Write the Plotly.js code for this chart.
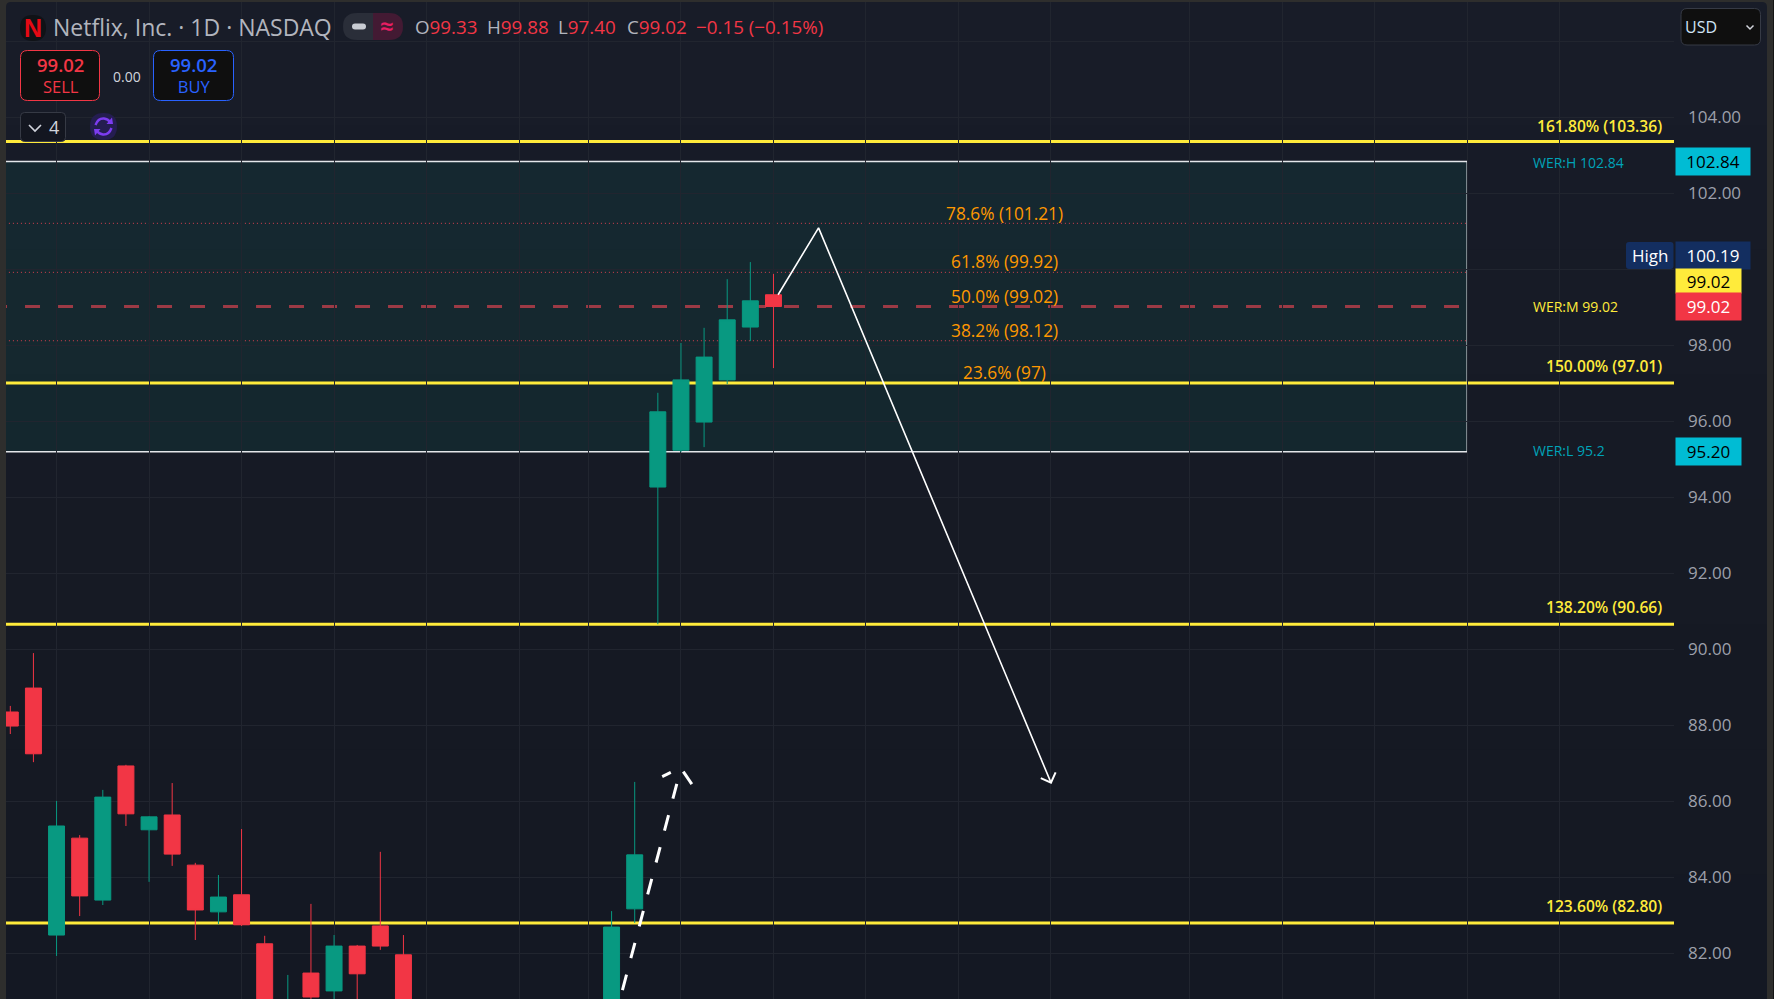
<!DOCTYPE html>
<html>
<head>
<meta charset="utf-8">
<script src="https://cdn.plot.ly/plotly-3.0.1.min.js"></script>
<style>html,body{margin:0;padding:0;background:#151924;overflow:hidden}#chart{width:1774px;height:999px}</style>
</head>
<body>
<div id="chart"></div>
<script>
// ---- data ----
const candleIndex = [0,1,2,3,4,5,6,7,8,9,10,11,12,13,14,15,16,17,26,27,28,29,30,31,32,33];
const candleOpen  = [88.35,88.98,82.48,85.03,83.40,86.93,85.25,85.64,84.32,83.09,83.54,82.25,80.00,81.48,81.01,82.19,82.72,81.96,79.00,83.17,94.27,95.24,95.98,97.09,98.48,99.33];
const candleClose = [87.98,87.25,85.35,83.51,86.11,85.67,85.59,84.61,83.14,83.48,82.75,79.50,80.50,80.85,82.19,81.46,82.19,79.50,82.69,84.59,96.25,97.09,97.69,98.67,99.17,99.02];
const candleHigh  = [88.51,89.90,86.01,85.11,86.30,86.96,85.61,86.48,84.38,84.06,85.27,82.46,81.43,83.30,82.48,82.22,84.67,82.48,83.11,86.51,96.75,98.06,98.46,99.74,100.19,99.88];
const candleLow   = [87.77,87.03,81.93,82.98,83.27,85.35,83.88,84.30,82.35,82.77,82.72,79.00,79.50,80.50,80.00,80.00,82.09,79.00,78.50,82.80,90.66,95.19,95.32,96.98,98.11,97.40];

const yTickVals = [82,84,86,88,90,92,94,96,98,100,102,104,106];
const yTickText = ["82.00","84.00","86.00","88.00","90.00","92.00","94.00","96.00","98.00","","102.00","104.00",""];
const xGridVals = [2,6,10,14,18,22,25,29,33,37,41,45,51,55,59,63,67];

const extensionLevels = [103.36,97.01,90.66,82.80];
const extensionLabels = ["161.80% (103.36)","150.00% (97.01)","138.20% (90.66)","123.60% (82.80)"];
const extensionLabelY = [103.77,97.46,91.10,83.25];
const fibLevels  = [101.21,99.92,98.12];
const fibLabels  = ["78.6% (101.21)","61.8% (99.92)","50.0% (99.02)","38.2% (98.12)","23.6% (97)"];
const fibLabelY  = [101.46,100.21,99.28,98.39,97.28];
const werHigh = 102.84, werMid = 99.02, werLow = 95.20;

const arrowX = [33.2,34.95,45.0];
const arrowY = [99.33,101.09,86.49];
const arrowHeadX = [44.56,45.0,45.2];
const arrowHeadY = [86.61,86.49,86.76];
const dashX = [26.47,28.82];
const dashY = [81.03,86.46];
const dashHeadLeftX = [28.19,28.56], dashHeadLeftY = [86.65,86.76];
const dashHeadRightX = [29.10,29.47], dashHeadRightY = [86.78,86.45];

// ---- helpers: whole-page pixel -> paper ----
const W = 1774, H = 999;
const px = x => x / W, py = y => 1 - y / H;
const GREEN = "#089981", RED = "#f23645", YEL = "#ffeb3b", ORG = "#ff9800", CY = "#00bcd4", CYT = "#00a3b8", FRAME = "#2e2e2d";
const FONT = "'Open Sans', sans-serif";

function rr(x0,y0,x1,y1,r){
  const X=px,Y=py;
  return `M${X(x0+r)},${Y(y0)} L${X(x1-r)},${Y(y0)} Q${X(x1)},${Y(y0)} ${X(x1)},${Y(y0+r)} L${X(x1)},${Y(y1-r)} Q${X(x1)},${Y(y1)} ${X(x1-r)},${Y(y1)} L${X(x0+r)},${Y(y1)} Q${X(x0)},${Y(y1)} ${X(x0)},${Y(y1-r)} L${X(x0)},${Y(y0+r)} Q${X(x0)},${Y(y0)} ${X(x0+r)},${Y(y0)} Z`;
}
function pline(pts){return "M"+pts.map(p=>px(p[0])+","+py(p[1])).join(" L");}
function pshape(path,fill,lc,lw,extra){return Object.assign({type:"path",xref:"paper",yref:"paper",path,fillcolor:fill||"rgba(0,0,0,0)",line:{color:lc||"rgba(0,0,0,0)",width:lw||0},layer:"above"},extra||{});}
function rect(x0,y0,x1,y1,fill,layer){return {type:"rect",xref:"paper",yref:"paper",x0:px(x0),x1:px(x1),y0:py(y0),y1:py(y1),fillcolor:fill,line:{width:0},layer:layer||"above"};}
function txt(x,y,text,o){o=o||{};return {xref:"paper",yref:"paper",x:px(x),y:py(y),text,showarrow:false,xanchor:o.a||"left",yanchor:"middle",font:{family:o.f||FONT,size:o.s||14,color:o.c||"#b2b5be",weight:o.w||400},borderpad:0};}
// price tag on the axis: y in data units, x in page pixels
function tag(x0,x1,yVal,h,text,bg,col,w){return {xref:"paper",yref:"y",x:px(x0),y:yVal,xanchor:"left",yanchor:"middle",text,showarrow:false,width:x1-x0,height:h,align:"center",bgcolor:bg,borderpad:0,font:{family:FONT,size:17,color:col,weight:w||400}};}

const shapes = [];
// very slight vertical fade of the chart background
const bgBands = ["#181c28","#171b27","#171b26","#161a25","#161a24","#151923","#151923","#141823"];
bgBands.forEach((c,i)=>shapes.push(rect(0,i*H/bgBands.length,W,(i+1)*H/bgBands.length+1,c,"below")));
// WER zone
shapes.push({type:"rect",xref:"x",yref:"y",x0:-3,x1:63,y0:werLow,y1:werHigh,fillcolor:"rgba(8,153,129,0.10)",line:{color:"#e4e6ea",width:1.5},layer:"below"});
// fib levels inside the zone
fibLevels.forEach(v=>shapes.push({type:"line",xref:"x",yref:"y",x0:-3,x1:63,y0:v,y1:v,line:{color:"#d8404f",width:1,dash:"1px,3px"},layer:"below"}));
shapes.push({type:"line",xref:"x",yref:"y",x0:-0.79,x1:62.69,y0:werMid,y1:werMid,line:{color:"#9c3a45",width:3,dash:"15px,18px"},layer:"below"});
// extension levels
extensionLevels.forEach(v=>shapes.push({type:"line",xref:"x",yref:"y",x0:-3,x1:75,y0:v,y1:v,line:{color:YEL,width:3},layer:"below"}));

// window frame
shapes.push(rect(0,0,6,H,FRAME));
shapes.push(rect(0,0,W,2,FRAME));
shapes.push(rect(1767,0,1773,H,FRAME));
shapes.push(rect(1773,0,W,H,"#141414"));
shapes.push(pshape(`M${px(6)},${py(2)} L${px(11)},${py(2)} Q${px(6)},${py(2)} ${px(6)},${py(7)} Z`,FRAME));
shapes.push(pshape(`M${px(1767)},${py(2)} L${px(1762)},${py(2)} Q${px(1767)},${py(2)} ${px(1767)},${py(7)} Z`,FRAME));

// logo
shapes.push(pshape(rr(20,15,46,41,13),"#101216"));
// OHLC pill
shapes.push(pshape(`M${px(373)},${py(13)} L${px(357)},${py(13)} Q${px(343)},${py(13)} ${px(343)},${py(26.5)} Q${px(343)},${py(40)} ${px(357)},${py(40)} L${px(373)},${py(40)} Z`,"#2a2e39"));
shapes.push(pshape(`M${px(373)},${py(13)} L${px(389)},${py(13)} Q${px(403)},${py(13)} ${px(403)},${py(26.5)} Q${px(403)},${py(40)} ${px(389)},${py(40)} L${px(373)},${py(40)} Z`,"#431a33"));
shapes.push(pshape(rr(352,23.5,366,29.5,3),"#c9ccd3"));
// sell / buy
shapes.push(pshape(rr(20.5,50.5,99.5,100.5,7),"#0f0f0f",RED,1));
shapes.push(pshape(rr(153.5,50.5,233.5,100.5,7),"#0f0f0f","#2962ff",1));
// collapse button
shapes.push(pshape(rr(20.5,112.5,65.5,141.5,4),"#131620","#363a45",1));
shapes.push(pshape(pline([[29,125],[35,131],[41,125]]),null,"#d1d4dc",1.6));
// sync icon
shapes.push(pshape(rr(90,113,117,140,13.5),"#241d50"));
shapes.push(pshape(`M${px(95.5)},${py(125)} Q${px(98)},${py(118)} ${px(104)},${py(118.5)} Q${px(108)},${py(119)} ${px(110)},${py(122)}`,null,"#7c3cf0",2.4));
shapes.push(pshape(`M${px(111.5)},${py(128)} Q${px(109)},${py(135)} ${px(103)},${py(134.5)} Q${px(99)},${py(134)} ${px(97)},${py(131)}`,null,"#7c3cf0",2.4));
shapes.push(pshape(pline([[106.5,124],[113,124],[112,117.5],[106.5,124]]),"#7c3cf0"));
shapes.push(pshape(pline([[94,129],[100.5,129],[95,135.5],[94,129]]),"#7c3cf0"));
// currency box
shapes.push(pshape(rr(1681,8.5,1760.5,45,6),"#0f0f0f","#363a45",1));
shapes.push(pshape(pline([[1746.5,25.5],[1750,29],[1753.5,25.5]]),null,"#d1d4dc",1.5));
// "High" label backing
shapes.push(pshape(rr(1626,242,1673.5,269,3),"#132e60"));

const red = (s)=>`<span style="color:${RED}">${s}</span>`;
const big = (s)=>`<span style="font-size:18.5px;font-weight:600">${s}</span>`;
const annotations = [
  txt(33,28,"<b>N</b>",{a:"center",s:25,c:"#e50914",f:"'Liberation Sans Narrow','Liberation Sans',sans-serif"}),
  txt(52,27,"Netflix, Inc. · 1D · NASDAQ",{s:23,c:"#b2b5be"}),
  txt(387,26,"≈",{a:"center",s:24,c:"#e91e63",w:600}),
  txt(414,27,"O"+red("99.33"),{s:18.8}),
  txt(485.5,27,"H"+red("99.88"),{s:18.8}),
  txt(557,27,"L"+red("97.40"),{s:18.8}),
  txt(626,27,"C"+red("99.02"),{s:18.8}),
  txt(695,27,red("−0.15 (−0.15%)"),{s:18.8}),
  txt(60,75,big("99.02")+"<br>SELL",{a:"center",s:16.5,c:RED}),
  txt(127,76,"0.00",{a:"center",s:14,c:"#d1d4dc"}),
  txt(193.5,75,big("99.02")+"<br>BUY",{a:"center",s:16.5,c:"#2962ff"}),
  txt(54,127,"4",{a:"center",s:18,c:"#d1d4dc"}),
  txt(1684,27,"USD",{s:16,c:"#d1e4f5"}),
  txt(1531.7,162,"WER:H "+werHigh,{s:14,c:CYT}),
  txt(1531.7,306,"WER:M "+werMid,{s:14,c:YEL}),
  txt(1531.7,451,"WER:L "+werLow.toFixed(1),{s:14,c:CYT}),
  txt(1650,255.5,"High",{a:"center",s:17,c:"#fff"}),
  tag(1675,1749,werHigh,27,werHigh.toFixed(2),CY,"#000"),
  tag(1675,1749,100.363,27,"100.19","#132e60","#fff"),
  tag(1675,1740,99.69,24,"99.02",YEL,"#000"),
  tag(1675,1740,99.02,27,"99.02",RED,"#fff"),
  tag(1675,1740,werLow,27,werLow.toFixed(2),CY,"#000")
];

extensionLabels.forEach((t,i)=>annotations.push({xref:"paper",yref:"y",x:px(1664),y:extensionLabelY[i],xanchor:"right",yanchor:"middle",text:t,showarrow:false,font:{family:FONT,size:15.6,color:YEL,weight:600}}));
fibLabels.forEach((t,i)=>annotations.push({xref:"x",yref:"y",x:43,y:fibLabelY[i],xanchor:"center",yanchor:"middle",text:t,showarrow:false,font:{family:FONT,size:17.3,color:ORG}}));

const traces = [
  {type:"candlestick",x:candleIndex,open:candleOpen,high:candleHigh,low:candleLow,close:candleClose,
   increasing:{line:{color:GREEN,width:1},fillcolor:GREEN},decreasing:{line:{color:RED,width:1},fillcolor:RED},
   whiskerwidth:0,hoverinfo:"skip",showlegend:false},
  {type:"scatter",mode:"lines",x:arrowX,y:arrowY,line:{color:"#ffffff",width:1.6},hoverinfo:"skip",showlegend:false},
  {type:"scatter",mode:"lines",x:arrowHeadX,y:arrowHeadY,line:{color:"#fff",width:2},hoverinfo:"skip",showlegend:false},
  {type:"scatter",mode:"lines",x:dashX,y:dashY,line:{color:"#fff",width:3,dash:"16px,17px"},hoverinfo:"skip",showlegend:false},
  {type:"scatter",mode:"lines",x:dashHeadLeftX,y:dashHeadLeftY,line:{color:"#fff",width:3},hoverinfo:"skip",showlegend:false},
  {type:"scatter",mode:"lines",x:dashHeadRightX,y:dashHeadRightY,line:{color:"#fff",width:3},hoverinfo:"skip",showlegend:false}
];

const layout = {
  width:W,height:H,margin:{l:0,r:0,t:0,b:0,pad:0},
  paper_bgcolor:"#151924",plot_bgcolor:"rgba(0,0,0,0)",
  showlegend:false,boxgap:0.31,boxgroupgap:0,
  font:{family:FONT,color:"#b2b5be"},
  xaxis:{domain:[6/W,1674/W],range:[-0.186,71.94],tickmode:"array",tickvals:xGridVals,showticklabels:false,ticks:"",
         showgrid:true,gridcolor:"#21252f",gridwidth:1,zeroline:false,showline:false,rangeslider:{visible:false},fixedrange:true},
  yaxis:{domain:[0,1],range:[80.797,107.087],side:"right",anchor:"x",tickmode:"array",tickvals:yTickVals,ticktext:yTickText,
         ticks:"",ticklen:0,ticklabelstandoff:13,tickfont:{family:FONT,size:17,color:"#9da0ab"},
         showgrid:true,gridcolor:"#21252f",gridwidth:1,zeroline:false,showline:false,fixedrange:true},
  shapes,annotations
};
Plotly.newPlot("chart",traces,layout,{displayModeBar:false,staticPlot:true});
</script>
</body>
</html>
